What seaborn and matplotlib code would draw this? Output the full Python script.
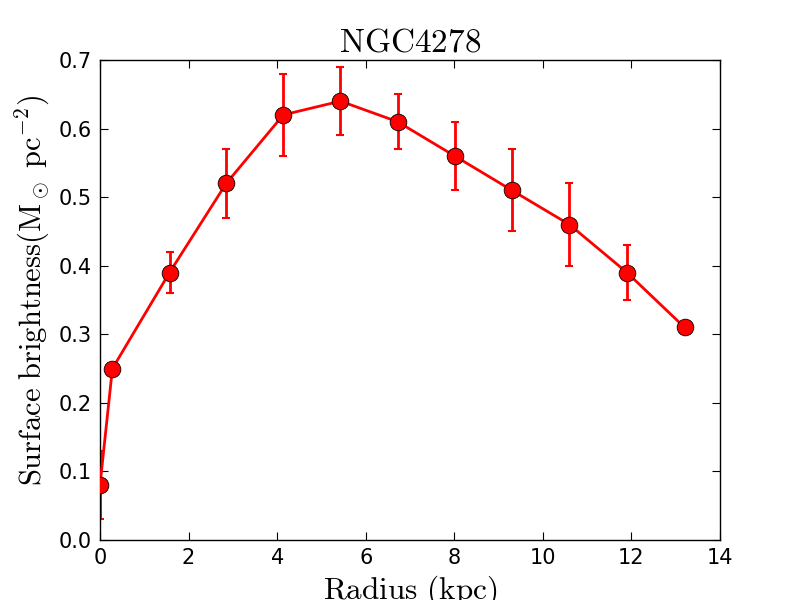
import numpy as np
import pandas as pd
import matplotlib
matplotlib.use("Agg")
import matplotlib.pyplot as plt
import seaborn as sns

# Surface brightness profile of NGC4278
radius = [0.0, 0.28, 1.57, 2.85, 4.14, 5.43, 6.72, 8.01, 9.30, 10.60, 11.90, 13.20]
brightness = [0.08, 0.25, 0.39, 0.52, 0.62, 0.64, 0.61, 0.56, 0.51, 0.46, 0.39, 0.31]
brightness_err = [0.05, 0.0, 0.03, 0.05, 0.06, 0.05, 0.04, 0.05, 0.06, 0.06, 0.04, 0.0]

df = pd.DataFrame({"radius": radius, "sb": brightness, "err": brightness_err})

sns.set_style("ticks")
plt.rcParams["font.family"] = ["DejaVu Sans"]
plt.rcParams["mathtext.fontset"] = "cm"
plt.rcParams["xtick.direction"] = "in"
plt.rcParams["ytick.direction"] = "in"
for key in ["text.color", "axes.labelcolor", "xtick.color", "ytick.color", "axes.edgecolor"]:
    plt.rcParams[key] = "black"

fig, ax = plt.subplots(figsize=(8, 6), dpi=100)
fig.subplots_adjust(left=0.125, right=0.9, bottom=0.1, top=0.9)

# error bars first, then the line with markers on top
ax.errorbar(df["radius"], df["sb"], yerr=df["err"], fmt="none",
            ecolor="red", elinewidth=2, capsize=3, capthick=1.5, zorder=2)
sns.lineplot(data=df, x="radius", y="sb", ax=ax, color="red", linewidth=2,
             marker="o", markersize=12, markerfacecolor="red",
             markeredgecolor="black", markeredgewidth=0.6, zorder=3)

ax.set_xlim(0, 14)
ax.set_ylim(0, 0.7)
ax.set_xticks(np.arange(0, 15, 2))
ax.set_yticks(np.arange(0, 0.71, 0.1))
ax.set_yticklabels([f"{v:.1f}" for v in np.arange(0, 0.71, 0.1)])
ax.tick_params(axis="both", which="both", top=True, right=True,
               labelsize=15, length=6, width=0.8, pad=6, colors="black")
for s in ax.spines.values():
    s.set_linewidth(1.0)
    s.set_color("black")

ax.set_title(r"$\mathrm{NGC4278}$", fontsize=24, color="black")
ax.set_xlabel(r"$\mathrm{Radius\ (kpc)}$", fontsize=22.5, labelpad=4, color="black")
ax.set_ylabel(r"$\mathrm{Surface\ brightness(M_\odot\ pc^{-2})}$", fontsize=22,
              color="black")
ax.yaxis.set_label_coords(-0.077, 0.52)

fig.savefig("out.png", dpi=100, facecolor="white")
